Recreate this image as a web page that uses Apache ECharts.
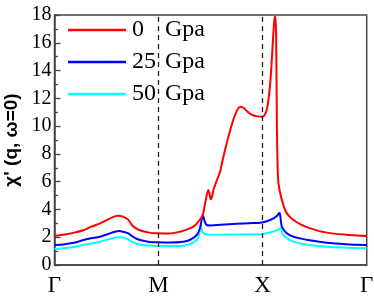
<!DOCTYPE html>
<html><head><meta charset="utf-8">
<script src="https://cdn.jsdelivr.net/npm/echarts@6/dist/echarts.min.js"></script>
<style>html,body{margin:0;padding:0;background:#fff}#c{width:374px;height:296px}</style>
</head><body><div id="c"></div>
<script>
var seriesNames = ['0 Gpa', '25 Gpa', '50 Gpa'];
var pathLabels = ['Γ', 'M', 'X', 'Γ'];
var yTicks = [0, 2, 4, 6, 8, 10, 12, 14, 16, 18];
var symLines = [1, 2];

var xRed = [0, 0.1, 0.2, 0.277, 0.35, 0.4375, 0.52, 0.58, 0.613, 0.65, 0.69, 0.71, 0.742, 0.78, 0.822, 0.9, 0.983, 1.1, 1.207, 1.27, 1.335, 1.38, 1.41, 1.425, 1.447, 1.465, 1.479, 1.49, 1.502, 1.515, 1.527, 1.56, 1.59, 1.623, 1.688, 1.74, 1.784, 1.82, 1.86, 1.9, 1.95, 1.99, 2.02, 2.046, 2.072, 2.09, 2.104, 2.115, 2.122, 2.13, 2.137, 2.145, 2.152, 2.168, 2.185, 2.216, 2.25, 2.296, 2.37, 2.457, 2.617, 2.8, 3.0];
var yRed = [2.1, 2.2, 2.35, 2.5, 2.75, 3.0, 3.3, 3.5, 3.55, 3.5, 3.35, 3.25, 2.9, 2.65, 2.5, 2.35, 2.28, 2.27, 2.4, 2.55, 2.76, 3.1, 3.4, 3.6, 4.44, 5.1, 5.4, 5.1, 4.73, 4.95, 5.4, 6.1, 6.7, 7.8, 9.7, 10.9, 11.4, 11.3, 11.0, 10.8, 10.7, 10.67, 10.8, 11.4, 13.0, 15.0, 16.8, 17.8, 17.9, 16.5, 10.0, 6.8, 5.9, 5.2, 4.68, 3.96, 3.55, 3.24, 2.9, 2.64, 2.33, 2.18, 2.09];

var xBlue = [0, 0.1, 0.2, 0.277, 0.35, 0.4375, 0.52, 0.58, 0.62, 0.66, 0.71, 0.742, 0.8, 0.9, 0.983, 1.1, 1.238, 1.3, 1.367, 1.4, 1.425, 1.445, 1.463, 1.5, 1.6, 1.75, 1.9, 1.976, 2.04, 2.104, 2.14, 2.162, 2.175, 2.185, 2.232, 2.29, 2.36, 2.45, 2.617, 2.8, 3.0];
var yBlue = [1.44, 1.5, 1.62, 1.8, 1.92, 2.04, 2.25, 2.4, 2.45, 2.4, 2.28, 2.1, 1.85, 1.68, 1.63, 1.62, 1.68, 1.8, 2.16, 2.7, 3.6, 3.1, 2.88, 2.85, 2.9, 2.97, 3.02, 3.04, 3.15, 3.36, 3.55, 3.77, 3.2, 2.76, 2.28, 2.05, 1.92, 1.78, 1.6, 1.5, 1.44];

var xCyan = [0, 0.1, 0.2, 0.277, 0.35, 0.4375, 0.52, 0.58, 0.62, 0.66, 0.71, 0.742, 0.8, 0.9, 0.983, 1.1, 1.238, 1.3, 1.367, 1.39, 1.405, 1.42, 1.44, 1.5, 1.6, 1.75, 1.9, 1.976, 2.05, 2.12, 2.155, 2.175, 2.19, 2.2, 2.24, 2.296, 2.4, 2.617, 2.8, 3.0];
var yCyan = [1.15, 1.22, 1.32, 1.44, 1.55, 1.68, 1.85, 1.97, 2.0, 1.97, 1.85, 1.68, 1.5, 1.4, 1.37, 1.36, 1.39, 1.5, 1.8, 2.2, 2.88, 2.4, 2.25, 2.18, 2.18, 2.2, 2.2, 2.2, 2.3, 2.45, 2.55, 2.69, 2.3, 2.16, 1.9, 1.68, 1.5, 1.32, 1.25, 1.2];

var colors = ['#ff0000', '#0000ff', '#00ffff'];
function zip(xs, ys) { return xs.map(function (x, i) { return [x, ys[i]]; }); }
var allData = [zip(xRed, yRed), zip(xBlue, yBlue), zip(xCyan, yCyan)];

var chart = echarts.init(document.getElementById('c'));
var series = allData.map(function (d, i) {
  var s = {
    name: seriesNames[i], type: 'line', data: d, showSymbol: false, symbol: 'none',
    smooth: 0.3,
    lineStyle: {color: colors[i], width: 2}, itemStyle: {color: colors[i]},
    z: 3 - i, animation: false
  };
  if (i === 0) {
    s.markLine = {
      silent: true, symbol: 'none', label: {show: false}, animation: false,
      lineStyle: {color: '#222', type: [5, 4], width: 1.3},
      data: symLines.map(function (v) { return {xAxis: v}; })
    };
  }
  return s;
});

var legendTop = 18, legendLeft = 68, legendW = 58, legendRow = 24, legendGap = 8;

chart.setOption({
  animation: false,
  grid: {left: 54.5, right: 7.3, top: 15, bottom: 31, show: true, borderColor: '#444', borderWidth: 1.5,
    outerBoundsMode: 'none', containLabel: false},
  legend: {
    left: legendLeft, top: legendTop, padding: 0, orient: 'vertical', itemWidth: legendW, itemHeight: 2.5,
    itemGap: legendGap, itemTextGap: 5, icon: 'rect', data: seriesNames,
    formatter: function () { return '\u00a0'; },
    textStyle: {fontSize: 24, lineHeight: legendRow, color: '#000'}
  },
  xAxis: {
    type: 'value', min: 0, max: 3, interval: 1,
    axisLine: {lineStyle: {color: '#444', width: 1.5}},
    axisTick: {show: false}, splitLine: {show: false},
    axisLabel: {show: false}
  },
  yAxis: {
    type: 'value', min: 0, max: 18, interval: 2,
    name: "χ' (q, ω=0)", nameLocation: 'middle', nameGap: 33,
    nameTextStyle: {fontFamily: 'Liberation Sans', fontWeight: 'bold', fontSize: 19, color: '#000'},
    axisLine: {show: true, lineStyle: {color: '#444', width: 1.5}},
    axisTick: {show: true, inside: true, length: 6, lineStyle: {color: '#444', width: 1.3}},
    minorTick: {show: true, splitNumber: 2, length: 3.5, lineStyle: {color: '#444', width: 1.3}},
    splitLine: {show: false},
    axisLabel: {show: false}
  },
  series: series
});

// Serif texts (tick labels and legend labels) placed through the chart's own scales
var g = [];
yTicks.forEach(function (v) {
  var p = chart.convertToPixel({gridIndex: 0}, [0, v]);
  g.push({type: 'text', x: p[0] - 3, y: p[1], silent: true,
    style: {text: String(v), font: '20px Liberation Serif', fill: '#000', align: 'right', verticalAlign: 'middle'}});
});
pathLabels.forEach(function (lab, i) {
  var p = chart.convertToPixel({gridIndex: 0}, [i, 0]);
  g.push({type: 'text', x: p[0], y: p[1] + 9, silent: true,
    style: {text: lab, font: '23px Liberation Serif', fill: '#000', align: 'center', verticalAlign: 'top'}});
});
seriesNames.forEach(function (n, i) {
  var parts = n.split(' ');
  var cy = legendTop + legendRow / 2 + i * (legendRow + legendGap);
  var tx = legendLeft + legendW + 6;
  g.push({type: 'text', x: tx, y: cy, silent: true,
    style: {text: parts[0], font: '24px Liberation Serif', fill: '#000', align: 'left', verticalAlign: 'middle'}});
  g.push({type: 'text', x: tx + 33, y: cy, silent: true,
    style: {text: parts[1], font: '24px Liberation Serif', fill: '#000', align: 'left', verticalAlign: 'middle'}});
});
chart.setOption({graphic: g});
</script></body></html>
